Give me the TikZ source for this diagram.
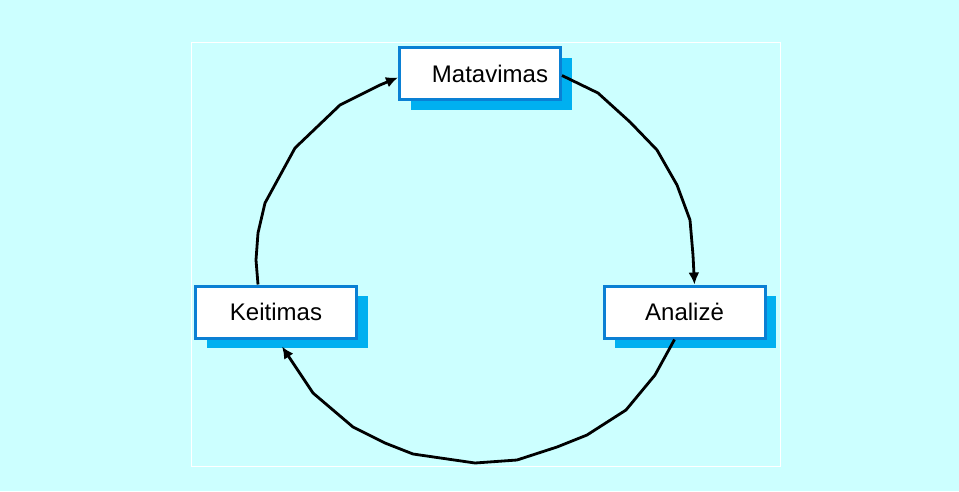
\documentclass[tikz,border=0pt]{standalone}
\usepackage{fontspec}
\setmainfont{Liberation Sans}
\usetikzlibrary{shadows,arrows.meta}
\definecolor{bgcyan}{HTML}{CCFFFF}
\definecolor{boxblue}{HTML}{0A80D4}
\definecolor{shadowblue}{HTML}{00B0F0}
\tikzset{
  stage/.style={draw=boxblue, line width=3pt, fill=white,
    minimum width=161pt, minimum height=52pt, inner sep=0pt,
    font=\fontsize{24}{28}\selectfont,
    drop shadow={fill=shadowblue, opacity=1, shadow xshift=11pt, shadow yshift=-10pt}},
  flow/.style={line width=2.8pt, line join=round,
    -{Latex[length=12pt,width=11pt]}}
}
\begin{document}
\begin{tikzpicture}[x=1pt,y=-1pt]
  \useasboundingbox (0,0) rectangle (959,491);
  \fill[bgcyan] (0,0) rectangle (959,491);
  \draw[white, line width=1pt] (191,42) rectangle (780,466);

  \node[stage] (mat) at (480,73.5) {\hspace{20pt}Matavimas};
  \node[stage] (ana) at (684.5,312) {Analizė};
  \node[stage] (kei) at (276,312) {Keitimas};

  % Matavimas -> Analizė
  \draw[flow] ([yshift=-2pt]mat.east) -- (598,93) -- (630,122) -- (657,150)
    -- (677,185) -- (690,220) -- (693,255) -- ([xshift=10pt]ana.north);
  % Analizė -> Keitimas
  \draw[flow] ([xshift=-10pt]ana.south) -- (655,375) -- (626,410) -- (587,435)
    -- (557,447) -- (517,460) -- (475,463) -- (413,454) -- (385,443)
    -- (353,427) -- (313,393) -- ([xshift=6pt,yshift=-7pt]kei.south);
  % Keitimas -> Matavimas
  \draw[flow] ([xshift=-18pt]kei.north) -- (256,260) -- (258,233) -- (265,203)
    -- (295,148) -- (340,105) -- (380,85) -- ([yshift=-4pt]mat.west);
\end{tikzpicture}
\end{document}
